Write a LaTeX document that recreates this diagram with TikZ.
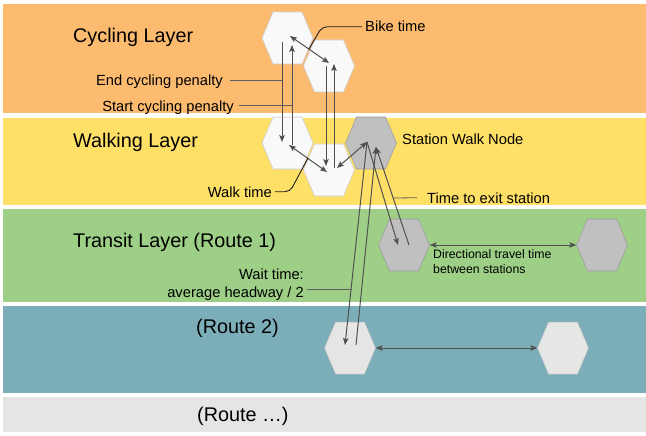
\documentclass[tikz,border=0pt]{standalone}
\usepackage{fontspec}
\setmainfont{Liberation Sans}
\usetikzlibrary{arrows.meta}
\definecolor{lorange}{RGB}{253,187,112}
\definecolor{lyellow}{RGB}{255,224,102}
\definecolor{lgreen}{RGB}{157,207,134}
\definecolor{lteal}{RGB}{123,174,185}
\definecolor{lgray}{RGB}{229,229,229}
\definecolor{hexw}{RGB}{249,249,249}
\definecolor{hexwb}{RGB}{205,205,205}
\definecolor{hexg}{RGB}{192,192,192}
\definecolor{hexgb}{RGB}{158,158,158}
\definecolor{hexr}{RGB}{230,230,230}
\definecolor{hexrb}{RGB}{190,190,190}
\definecolor{conncol}{RGB}{80,80,80}
\definecolor{leadk}{RGB}{30,30,30}
\definecolor{leadg}{RGB}{95,95,95}
\newcommand\hexat[4]{%
  \node[hexcore] (#1) at (#2,#3) {};
  \draw[#4] (#2-25.5,#3) -- (#2-14.5,#3-26) -- (#2+14.5,#3-26) -- (#2+25.5,#3)
     -- (#2+14.5,#3+26) -- (#2-14.5,#3+26) -- cycle;}
\begin{document}
\begin{tikzpicture}[x=1pt,y=-1pt,
  hexcore/.style={rectangle,minimum width=51pt,minimum height=52pt,inner sep=0pt,draw=none},
  hexwhite/.style={fill=hexw,draw=hexwb,line width=0.6pt},
  hexgray/.style={fill=hexg,draw=hexgb,line width=0.6pt},
  hexlight/.style={fill=hexr,draw=hexrb,line width=0.5pt},
  conn/.style={draw=conncol,line width=1pt},
  dbl/.style={conn,{Stealth[length=7pt,width=5.5pt,inset=1.5pt]}-{Stealth[length=7pt,width=5.5pt,inset=1.5pt]}},
  one/.style={conn,-{Stealth[length=7pt,width=5.5pt,inset=1.5pt]}},
  title/.style={font=\fontsize{19.8}{24}\selectfont,inner sep=0pt},
  lbl/.style={font=\fontsize{14.7}{18}\selectfont,inner sep=0pt,text height=10.5pt,text depth=0pt},
  smalllbl/.style={font=\fontsize{12.3}{15}\selectfont,inner sep=0pt,align=left},
  leadblack/.style={draw=leadk,line width=0.9pt},
  leadgray/.style={draw=leadg,line width=0.8pt}]

\useasboundingbox (0,0) rectangle (646,436);
\fill[white] (0,0) rectangle (646,436);

% layers
\fill[lorange] (3,4) rectangle (646,113);
\fill[lyellow] (3,118) rectangle (646,205);
\fill[lgreen]  (3,209) rectangle (646,302);
\fill[lteal]   (3,306) rectangle (646,393);
\fill[lgray]   (3,397) rectangle (646,432);

% layer titles
\node[title,anchor=base west] (tcyc) at (73,43) {Cycling Layer};
\node[title,anchor=base west] (twalk) at (73,147) {Walking Layer};
\node[title,anchor=base west] (ttr) at (73,247) {Transit Layer (Route 1)};
\node[title,anchor=base west] (tr2) at (196,333) {(Route 2)};
\node[title,anchor=base west] (tr3) at (197,421) {(Route …)};

% hexagons
\hexat{C1}{287.5}{38}{hexwhite}
\hexat{C2}{329}{66}{hexwhite}
\hexat{W1}{287.5}{143}{hexwhite}
\hexat{W2}{329}{170}{hexwhite}
\hexat{S}{371}{143}{hexgray}
\hexat{T1}{404}{245}{hexgray}
\hexat{T2}{602}{245}{hexgray}
\hexat{R1}{350}{348}{hexlight}
\hexat{R2}{563}{348}{hexlight}

% connector end points inside nodes
\coordinate (c1d) at ([shift={(2.5,-2)}]C1.center);
\coordinate (c1down) at ([shift={(-5.5,4)}]C1.center);
\coordinate (c1up) at ([shift={(4.5,7)}]C1.center);
\coordinate (c2d) at ([shift={(0,-3)}]C2.center);
\coordinate (c2down) at ([shift={(-3,0)}]C2.center);
\coordinate (c2up) at ([shift={(5,-2)}]C2.center);
\coordinate (w1in) at ([shift={(-5.5,-1)}]W1.center);
\coordinate (w1out) at ([shift={(4.5,2)}]W1.center);
\coordinate (w1d) at ([shift={(1.5,2)}]W1.center);
\coordinate (w2in) at ([shift={(-3,-4)}]W2.center);
\coordinate (w2out) at ([shift={(5,-2)}]W2.center);
\coordinate (w2dl) at ([shift={(-2,2)}]W2.center);
\coordinate (w2dr) at ([shift={(8,-2)}]W2.center);
\coordinate (sa) at ([shift={(-4,-1)}]S.center);
\coordinate (sb) at ([shift={(5,4)}]S.center);
\coordinate (t1in) at ([shift={(-6,0)}]T1.center);
\coordinate (t1out) at ([shift={(5,0)}]T1.center);
\coordinate (r1in) at ([shift={(-5,-3)}]R1.center);
\coordinate (r1out) at ([shift={(6,-3)}]R1.center);

% connectors
\draw[dbl] (c1d) -- (c2d);
\draw[one] (c1down) -- (w1in);
\draw[one] (w1out) -- (c1up);
\draw[one] (c2down) -- (w2in);
\draw[one] (w2out) -- (c2up);
\draw[dbl] (w1d) -- (w2dl);
\draw[dbl] (w2dr) -- (sa);
\draw[one] (sa) -- (t1in);
\draw[one] (t1out) -- (sb);
\draw[one] (sa) -- (r1in);
\draw[one] (r1out) -- (sb);
\draw[dbl] (T1.east) -- (T2.west);
\draw[dbl] (R1.east) -- (R2.west);

% labels
\node[lbl,anchor=base west] (bikelbl) at (365,32) {Bike time};
\node[lbl,anchor=base east] (endlbl) at (223,86) {End cycling penalty};
\node[lbl,anchor=base east] (startlbl) at (234,111) {Start cycling penalty};
\node[lbl,anchor=base west] (swlbl) at (402,145) {Station Walk Node};
\node[lbl,anchor=base east] (walklbl) at (272,197) {Walk time};
\node[lbl,anchor=base west] (exitlbl) at (427,203) {Time to exit station};
\node[smalllbl,anchor=north west] (dirlbl) at (433,249.5) {Directional travel time\\between stations};
\node[font=\fontsize{14.7}{18}\selectfont,inner sep=0pt,align=right,anchor=north east] (waitlbl) at (304,268.5) {Wait time:\\average headway / 2};

% leader lines
\coordinate (bikept) at (309,49);
\coordinate (walkpt) at (308,158);
\coordinate (exitpt) at (393,198);
\coordinate (waitpt) at (351.5,289);
\draw[leadblack,rounded corners=5pt] ([xshift=-3pt]bikelbl.west) -- ++(-40,0) -- (bikept);
\draw[leadblack,rounded corners=5pt] ([xshift=3pt]walklbl.east) -- ++(15,0) -- (walkpt);
\draw[leadgray] ([xshift=7pt]endlbl.east) -- (endlbl.east -| w1in);
\draw[leadgray] ([xshift=5pt]startlbl.east) -- (startlbl.east -| w1out);
\draw[leadgray] ([xshift=-10pt]exitlbl.west) -- (exitpt);
\draw[leadgray] (waitlbl.east |- waitpt) ++(3,0) -- (waitpt);
\end{tikzpicture}
\end{document}
